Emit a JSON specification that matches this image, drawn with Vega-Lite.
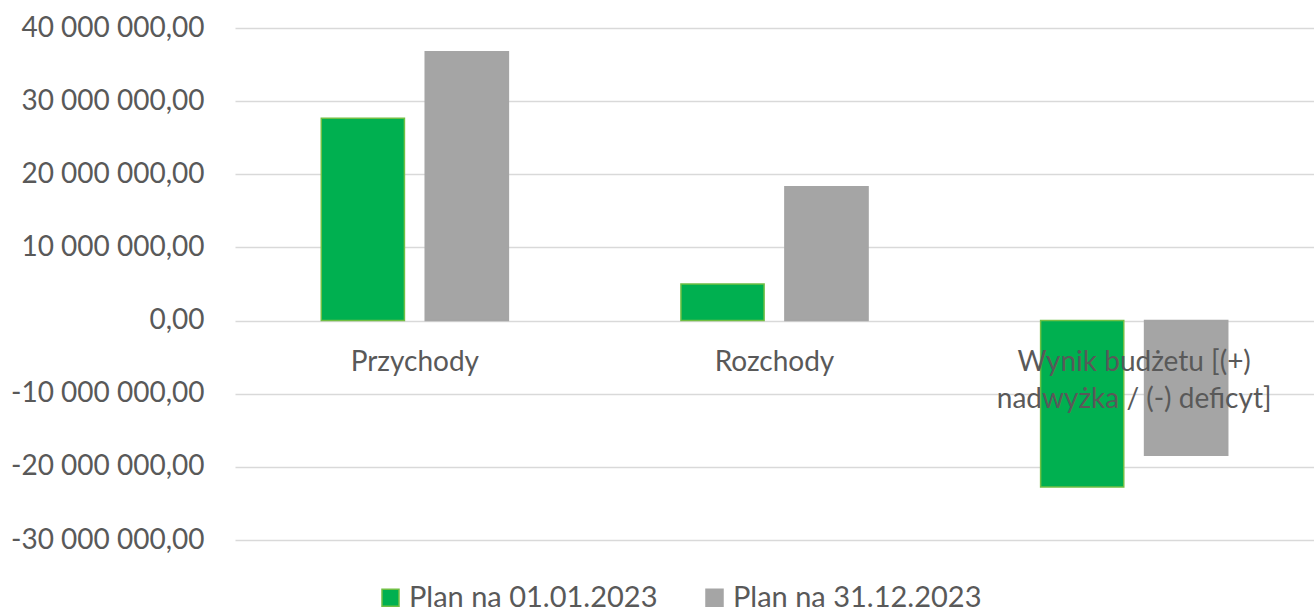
{
  "$schema": "https://vega.github.io/schema/vega-lite/v6.json",
  "width": 1079,
  "height": 512,
  "autosize": {"type": "none"},
  "padding": {"left": 235, "top": 28, "right": 0, "bottom": 72},
  "background": "#ffffff",
  "config": {
    "view": {"stroke": null},
    "locale": {"number": {"decimal": ",", "thousands": " ", "grouping": [3], "currency": ["", ""], "minus": "-"}},
    "font": "Lato"
  },
  "data": {
    "values": [
      {"category": "Przychody", "series": "Plan na 01.01.2023", "value": 27650000},
      {"category": "Przychody", "series": "Plan na 31.12.2023", "value": 36750000},
      {"category": "Rozchody", "series": "Plan na 01.01.2023", "value": 5000000},
      {"category": "Rozchody", "series": "Plan na 31.12.2023", "value": 18300000},
      {"category": "Wynik budżetu [(+)\nnadwyżka / (-) deficyt]", "series": "Plan na 01.01.2023", "value": -22750000},
      {"category": "Wynik budżetu [(+)\nnadwyżka / (-) deficyt]", "series": "Plan na 31.12.2023", "value": -18400000}
    ]
  },
  "encoding": {
    "x": {
      "field": "category",
      "type": "nominal",
      "sort": null,
      "scale": {"paddingInner": 0, "paddingOuter": 0},
      "axis": null
    }
  },
  "layer": [
    {
      "mark": {"type": "bar", "strokeWidth": 1.5},
      "encoding": {
        "xOffset": {
          "field": "series",
          "type": "nominal",
          "scale": {"paddingInner": 0.2, "paddingOuter": 0.83}
        },
        "y": {
          "field": "value",
          "type": "quantitative",
          "scale": {"domain": [-30000000, 40000000], "nice": false, "zero": true},
          "axis": {
            "title": null,
            "values": [-30000000, -20000000, -10000000, 0, 10000000, 20000000, 30000000, 40000000],
            "format": ",.2f",
            "domain": false,
            "ticks": false,
            "labelPadding": 31,
            "labelLimit": 0,
            "labelFontSize": 28,
            "labelFont": "Lato",
            "labelColor": "#595959",
            "gridColor": "#D9D9D9",
            "gridWidth": 1.5
          }
        },
        "color": {
          "field": "series",
          "type": "nominal",
          "scale": {"range": ["#00B050", "#A5A5A5"]},
          "legend": {
            "title": null,
            "orient": "none",
            "legendX": 141,
            "legendY": 555,
            "direction": "horizontal",
            "symbolType": "square",
            "symbolSize": 289,
            "symbolStrokeWidth": 1.5,
            "labelFontSize": 29,
            "labelFont": "Lato",
            "labelColor": "#595959",
            "labelLimit": 0,
            "labelOffset": 4,
            "columnPadding": 42
          }
        },
        "stroke": {
          "field": "series",
          "type": "nominal",
          "scale": {"range": ["#70BF44", "#A5A5A5"]},
          "legend": null
        }
      }
    },
    {
      "transform": [{"filter": "datum.series === 'Plan na 01.01.2023'"}],
      "mark": {
        "type": "text",
        "lineBreak": "\n",
        "baseline": "top",
        "dy": 28,
        "fontSize": 28,
        "font": "Lato",
        "color": "#595959",
        "lineHeight": 37
      },
      "encoding": {
        "y": {"datum": 0, "type": "quantitative"},
        "text": {"field": "category"}
      }
    }
  ]
}
